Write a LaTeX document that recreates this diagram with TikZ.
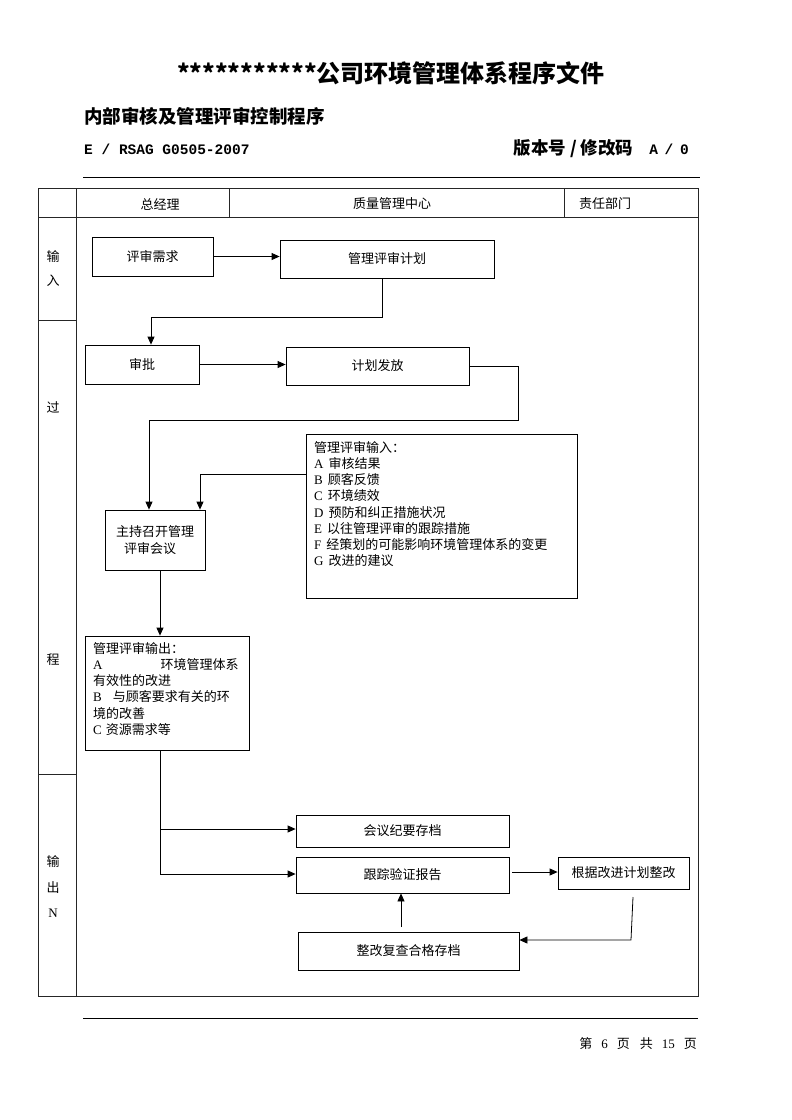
\documentclass[tikz,border=0pt]{standalone}
\usepackage{fontspec}
\setmainfont{Liberation Serif}
\setmonofont{Liberation Mono}
\newfontfamily\cjk{Noto Sans CJK SC}
\usetikzlibrary{arrows.meta}
\tikzset{
  box/.style={draw, line width=0.8pt, inner sep=0pt},
  txt/.style={font=\cjk\fontsize{13}{16.2}\selectfont, inner sep=0pt},
  ml/.style={txt, align=left, anchor=north west},
  arr/.style={line width=0.8pt, -{Triangle[length=8pt,width=7pt]}},
  ln/.style={line width=0.8pt},
  tbl/.style={line width=0.9pt, black!85},
  rule/.style={line width=0.9pt},
}
\begin{document}
\begin{tikzpicture}[x=1pt,y=-1pt]
\useasboundingbox (0,0) rectangle (792,1120);
% header texts
\node[inner sep=0pt, font=\cjk\bfseries\fontsize{24}{28}\selectfont] (title) at (391,73) {***********公司环境管理体系程序文件};
\node[inner sep=0pt, anchor=west, font=\cjk\bfseries\fontsize{18.5}{22}\selectfont] (sub) at (84,116) {内部审核及管理评审控制程序};
\node[inner sep=0pt, anchor=west, font=\ttfamily\bfseries\fontsize{14.5}{17}\selectfont] (code) at (84,149) {E / RSAG G0505-2007};
\node[inner sep=0pt, anchor=east] (ver) at (689,149) {{\cjk\bfseries\fontsize{17.5}{20}\selectfont 版本号 / 修改码}\hspace{16pt}{\ttfamily\bfseries\fontsize{14.5}{17}\selectfont A\hspace{-2pt} / \hspace{-2pt}0}};
\draw[rule] (83,177) -- (700,177);
% table
\draw[tbl] (38,188) rectangle (698,996);
\draw[tbl] (38,217) -- (698,217);
\draw[tbl] (76,188) -- (76,996);
\draw[tbl] (229,188) -- (229,217);
\draw[tbl] (564,188) -- (564,217);
\draw[tbl] (38,320) -- (76,320);
\draw[tbl] (38,774) -- (76,774);
\node[txt] (h1) at (160,204) {总经理};
\node[txt] (h2) at (392,204) {质量管理中心};
\node[txt] (h3) at (605,204) {责任部门};
\node[txt, align=center, font=\cjk\fontsize{13}{24}\selectfont] (l1) at (53,268) {输\\入};
\node[txt] (l2) at (53,407) {过};
\node[txt] (l3) at (53,660) {程};
\node[txt, align=center, font=\cjk\fontsize{13}{25.5}\selectfont] (l4) at (53,887) {输\\出\\{\rmfamily N}};
% boxes
\node[box, txt, minimum width=121pt, minimum height=39pt] (req) at (152.5,256.5) {评审需求};
\node[box, txt, minimum width=214pt, minimum height=38pt] (plan) at (387,259) {管理评审计划};
\node[box, txt, minimum width=114pt, minimum height=39pt] (appr) at (142,364.5) {审批};
\node[box, txt, minimum width=183pt, minimum height=38pt] (issue) at (377.5,366) {计划发放};
\node[box, minimum width=271pt, minimum height=164pt] (inp) at (441.5,516) {};
\node[ml] (inptxt) at (314,441) {管理评审输入：\\
{\rmfamily A}\hspace{5pt}审核结果\\
{\rmfamily B}\hspace{5pt}顾客反馈\\
{\rmfamily C}\hspace{5pt}环境绩效\\
{\rmfamily D}\hspace{5pt}预防和纠正措施状况\\
{\rmfamily E}\hspace{5pt}以往管理评审的跟踪措施\\
{\rmfamily F}\hspace{5pt}经策划的可能影响环境管理体系的变更\\
{\rmfamily G}\hspace{5pt}改进的建议};
\node[box, txt, align=left, minimum width=100pt, minimum height=60pt, font=\cjk\fontsize{13}{17}\selectfont] (host) at (155,540) {主持召开管理\\\hspace{8pt}评审会议};
\node[box, minimum width=164pt, minimum height=114pt] (outp) at (167,693) {};
\node[ml] (outtxt) at (93,642) {管理评审输出：\\
{\rmfamily A}\hspace{58pt}环境管理体系\\
有效性的改进\\
{\rmfamily B}\hspace{11pt}与顾客要求有关的环\\
境的改善\\
{\rmfamily C}\hspace{4pt}资源需求等};
\node[box, txt, minimum width=213pt, minimum height=32pt] (minutes) at (402.5,831) {会议纪要存档};
\node[box, txt, minimum width=213pt, minimum height=36pt] (track) at (402.5,875) {跟踪验证报告};
\node[box, txt, minimum width=131pt, minimum height=32pt] (rect) at (623.5,873) {根据改进计划整改};
\node[box, txt, minimum width=221pt, minimum height=38pt] (arch) at (408.5,951) {整改复查合格存档};
% connectors
\draw[arr] (req.east) -- (req.east -| plan.west);
\coordinate (p1) at (382,317);
\coordinate (p2) at (151,317);
\draw[arr] (plan.south -| p1) -- (p1) -- (p2) -- (appr.north -| p2);
\draw[arr] (appr.east) -- (appr.east -| issue.west);
\coordinate (q1) at (518,420);
\coordinate (q2) at (149,420);
\draw[arr] (issue.east) -| (q1) -- (q2) -- (q2 |- host.north);
\coordinate (r1) at (200,474);
\draw[arr] (inp.west |- r1) -- (r1) -- (r1 |- host.north);
\coordinate (s1) at (160,600);
\draw[arr] (host.south -| s1) -- (s1 |- outp.north);
\coordinate (t1) at (160,829);
\coordinate (t2) at (160,874);
\draw[ln] (outp.south -| t1) -- (t2);
\draw[arr] (t1) -- (t1 -| minutes.west);
\draw[arr] (t2) -- (t2 -| track.west);
\coordinate (w1) at (512,872);
\draw[arr] (w1) -- (w1 -| rect.west);
\coordinate (u1) at (633,897);
\coordinate (u2) at (631,940);
\draw[arr] (u1) -- (u2) -- (u2 -| arch.east);
\coordinate (v1) at (401,927);
\draw[arr] (v1) -- (v1 |- track.south);
% footer
\draw[rule] (83,1018) -- (698,1018);
\node[inner sep=0pt, anchor=east, font=\fontsize{13}{16}\selectfont] (foot) at (697,1044) {{\cjk 第}\hspace{9pt}6\hspace{9pt}{\cjk 页}\hspace{10pt}{\cjk 共}\hspace{9pt}15\hspace{9pt}{\cjk 页}};
\end{tikzpicture}
\end{document}
